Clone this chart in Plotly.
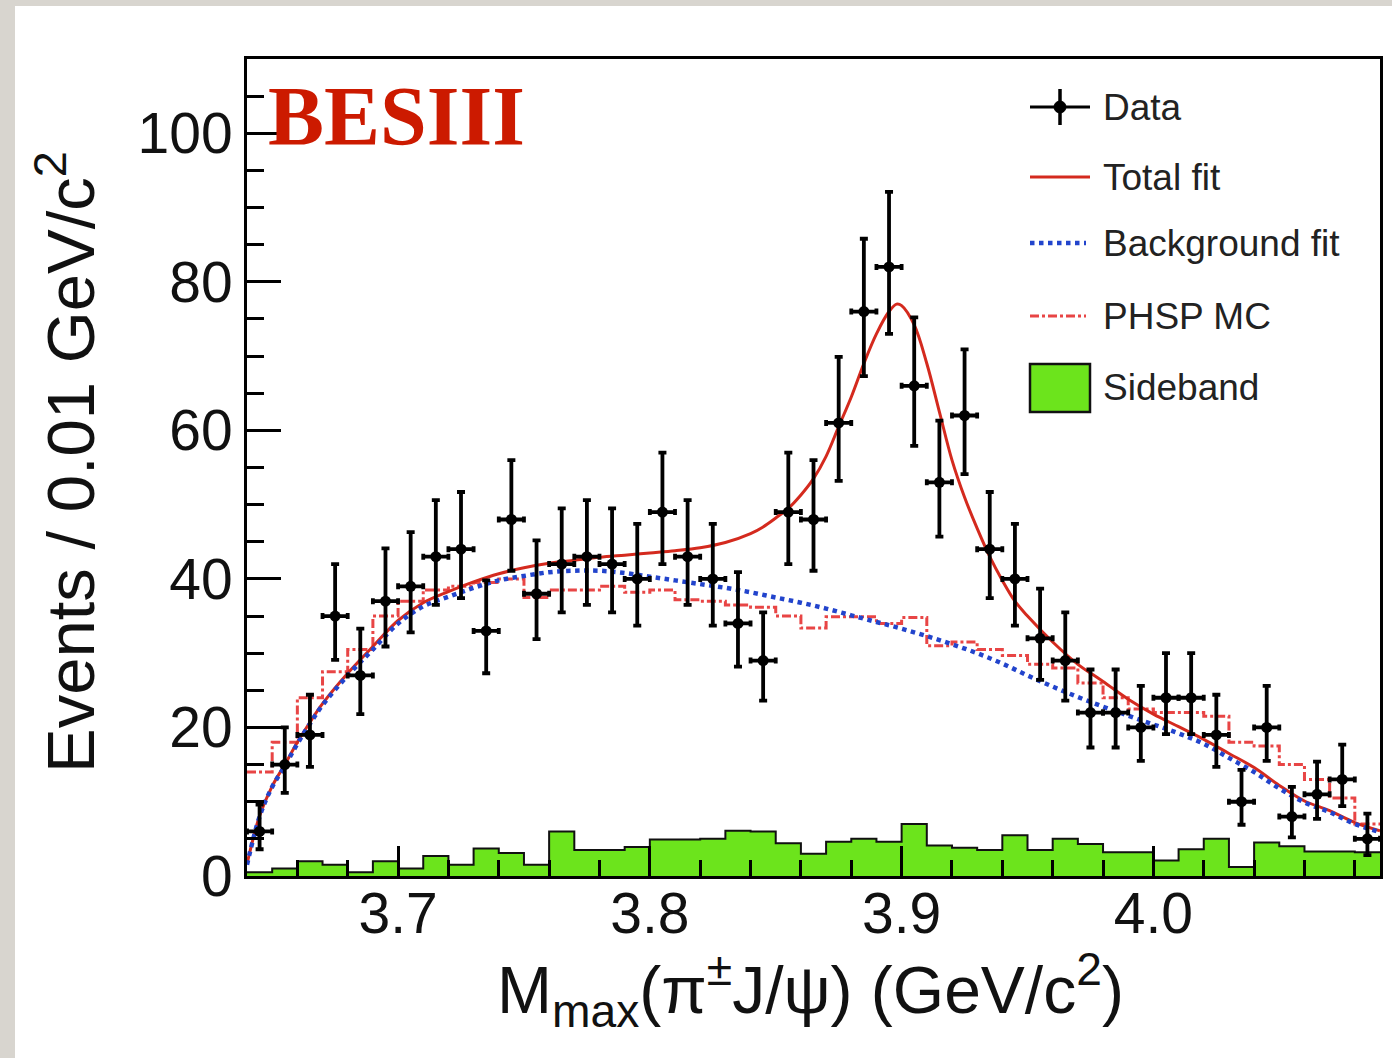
import plotly.graph_objects as go

# ---------------- data ----------------
bin_width = 0.01
bin_lo = [round(3.64 + 0.01 * i, 3) for i in range(45)]          # bin lower edges
bin_center = [round(b + 0.005, 4) for b in bin_lo]

data_counts = [6, 15, 19, 35, 27, 37, 39, 43, 44, 33, 48, 38, 42, 43, 42, 40, 49, 43, 40, 34,
               29, 49, 48, 61, 76, 82, 66, 53, 62, 44, 40, 32, 29, 22, 22, 20, 24, 24, 19, 10,
               20, 8, 11, 13, 5]
err_up = [3.6, 5.0, 5.4, 7.0, 6.3, 7.1, 7.3, 7.6, 7.7, 6.8, 8.0, 7.2, 7.5, 7.6, 7.5, 7.4, 8.0, 7.6, 7.4, 6.9,
          6.5, 8.0, 8.0, 8.9, 9.8, 10.1, 9.2, 8.3, 8.9, 7.7, 7.4, 6.7, 6.5, 5.8, 5.8, 5.6, 6.0, 6.0, 5.4, 4.3,
          5.6, 4.0, 4.4, 4.7, 3.4]
err_down = [2.4, 3.8, 4.3, 5.9, 5.2, 6.1, 6.2, 6.5, 6.6, 5.7, 6.9, 6.1, 6.5, 6.5, 6.5, 6.3, 7.0, 6.5, 6.3, 5.8,
            5.4, 7.0, 6.9, 7.8, 8.7, 9.0, 8.1, 7.3, 7.9, 6.6, 6.3, 5.6, 5.4, 4.7, 4.7, 4.5, 4.9, 4.9, 4.3, 3.1,
            4.5, 2.8, 3.3, 3.6, 2.2]

sideband = [0.5, 1.0, 2.0, 1.5, 0.5, 2.0, 1.0, 2.7, 1.5, 3.7, 3.1, 1.5, 6.0, 3.5, 3.5, 3.9, 4.9, 4.9, 5.0, 6.1,
            6.0, 4.4, 3.0, 4.6, 5.0, 4.6, 7.0, 4.1, 3.8, 3.5, 5.5, 3.5, 5.0, 4.3, 3.2, 3.2, 2.1, 3.6, 5.0, 1.2,
            4.5, 4.0, 3.3, 3.3, 3.2]

phsp_mc = [14.0, 18.0, 24.0, 27.5, 30.5, 35.0, 37.0, 38.5, 39.0, 39.5, 40.0, 37.5, 38.5, 38.5, 39.0, 38.2, 38.5,
           37.2, 37.0, 36.5, 36.2, 35.0, 33.4, 34.9, 34.9, 34.0, 34.8, 31.0, 31.5, 30.5, 29.7, 28.5, 28.0,
           26.0, 24.0, 22.5, 22.0, 22.0, 21.5, 18.0, 17.5, 15.0, 13.0, 10.5, 7.0]

bkg_x = [3.640, 3.645, 3.650, 3.655, 3.660, 3.665, 3.670, 3.680, 3.690, 3.700, 3.710, 3.720, 3.730,
         3.740, 3.750, 3.760, 3.770, 3.780, 3.790, 3.800, 3.810, 3.820, 3.830, 3.840, 3.850, 3.860,
         3.870, 3.880, 3.890, 3.900, 3.910, 3.920, 3.930, 3.940, 3.950, 3.960, 3.970, 3.980, 3.990,
         4.000, 4.010, 4.020, 4.030, 4.040, 4.050, 4.060, 4.070, 4.080, 4.090]
bkg_y = [1.5, 8.0, 12.0, 14.8, 17.8, 20.5, 23.0, 27.0, 30.5, 34.0, 36.3, 37.6, 38.8,
         39.8, 40.4, 40.9, 41.1, 41.1, 40.8, 40.3, 39.8, 39.3, 38.8, 38.2, 37.5, 36.8,
         36.0, 35.1, 34.2, 33.3, 32.3, 31.2, 30.0, 28.6, 27.0, 25.5, 24.1, 22.8, 21.6,
         20.4, 19.2, 17.8, 15.9, 14.0, 11.8, 9.9, 8.6, 7.0, 5.9]

tot_x = [3.640, 3.645, 3.650, 3.655, 3.660, 3.665, 3.670, 3.680, 3.690, 3.700, 3.710, 3.720, 3.730,
         3.740, 3.750, 3.760, 3.770, 3.780, 3.790, 3.800, 3.810, 3.820, 3.830, 3.840, 3.845, 3.850,
         3.855, 3.860, 3.865, 3.870, 3.875, 3.880, 3.885, 3.890, 3.895, 3.898, 3.900, 3.905, 3.910,
         3.915, 3.920, 3.925, 3.930, 3.935, 3.940, 3.945, 3.950, 3.960, 3.970, 3.980, 3.990, 4.000,
         4.010, 4.020, 4.030, 4.040, 4.050, 4.060, 4.070, 4.080, 4.090]
tot_y = [1.6, 8.1, 12.1, 15.0, 18.0, 20.7, 23.2, 27.3, 30.9, 34.4, 36.8, 38.3, 39.6,
         40.7, 41.5, 42.1, 42.5, 42.9, 43.2, 43.5, 43.8, 44.2, 44.9, 46.1, 47.0, 48.2,
         49.5, 51.3, 53.5, 56.5, 60.5, 64.5, 69.0, 73.0, 76.0, 77.0, 76.8, 74.2, 69.0,
         62.5, 56.0, 51.0, 46.8, 43.0, 39.8, 37.0, 35.0, 31.5, 28.5, 26.2, 23.8, 21.8,
         20.1, 18.4, 16.5, 14.6, 12.2, 10.1, 8.8, 7.2, 6.1]

x_ticks = [3.7, 3.8, 3.9, 4.0]
y_ticks = [0, 20, 40, 60, 80, 100]
legend_labels = ["Data", "Total fit", "Background fit", "PHSP MC", "Sideband"]

# histogram step outlines from bin edges
edges = bin_lo + [round(bin_lo[-1] + bin_width, 3)]
side_step = sideband + [sideband[-1]]
phsp_step = phsp_mc + [phsp_mc[-1]]

FONT = "Liberation Sans, Arial, Helvetica, sans-serif"
GREEN = "#6CE41C"
RED_TOT = "#D42A1E"
RED_PHSP = "#E84545"
BLUE = "#2244CC"

fig = go.Figure()

fig.add_trace(go.Scatter(
    x=edges, y=side_step, mode="lines", line=dict(shape="hv", color="#111111", width=2),
    fill="tozeroy", fillcolor=GREEN, name="Sideband", showlegend=False))

fig.add_trace(go.Scatter(
    x=edges, y=phsp_step, mode="lines",
    line=dict(shape="hv", color=RED_PHSP, width=3, dash="dashdot"),
    name="PHSP MC", showlegend=False))

fig.add_trace(go.Scatter(
    x=tot_x, y=tot_y, mode="lines", line=dict(color=RED_TOT, width=3, shape="spline"),
    name="Total fit", showlegend=False))

fig.add_trace(go.Scatter(
    x=bkg_x, y=bkg_y, mode="lines", line=dict(color=BLUE, width=4.5, dash="dot", shape="spline"),
    name="Background fit", showlegend=False))

fig.add_trace(go.Scatter(
    x=bin_center, y=data_counts, mode="markers",
    marker=dict(color="black", size=11, symbol="circle"),
    error_y=dict(type="data", symmetric=False, array=err_up, arrayminus=err_down,
                 color="black", thickness=3.8, width=4),
    error_x=dict(type="constant", value=bin_width / 2, color="black", thickness=3.8, width=3),
    name="Data", showlegend=False))

fig.update_xaxes(
    range=[3.64, 4.09], tickmode="array", tickvals=x_ticks, ticktext=[f"{v:.1f}" for v in x_ticks],
    ticks="inside", ticklen=30, tickwidth=3, tickcolor="black",
    minor=dict(ticks="inside", dtick=0.02, tick0=3.64, ticklen=16, tickwidth=3, tickcolor="black"),
    showline=True, linecolor="black", linewidth=3, mirror=True,
    showgrid=False, zeroline=False, layer="above traces", ticklabelstandoff=-14,
    tickfont=dict(family=FONT, size=57, color="#111111"))

fig.update_yaxes(
    range=[0, 110], tickmode="array", tickvals=y_ticks,
    ticks="inside", ticklen=34, tickwidth=3, tickcolor="black",
    minor=dict(ticks="inside", dtick=5, tick0=0, ticklen=17, tickwidth=3, tickcolor="black"),
    showline=True, linecolor="black", linewidth=3, mirror=True,
    showgrid=False, zeroline=False, layer="above traces",
    tickfont=dict(family=FONT, size=57, color="#111111"))

W, H = 1392, 1058
L, R, T, B = 247, 12, 59, 182
pw, ph = W - L - R, H - T - B

def px(xp):
    return (xp - L) / pw

def py(yp):
    return (H - B - yp) / ph

FRAME = "#D8D5CF"
shapes = [
    dict(type="rect", xref="paper", yref="paper", x0=px(0), x1=px(15), y0=py(H), y1=py(0),
         fillcolor=FRAME, line=dict(width=0), layer="below"),
    dict(type="rect", xref="paper", yref="paper", x0=px(0), x1=px(W), y0=py(6), y1=py(0),
         fillcolor=FRAME, line=dict(width=0), layer="below"),
]

# ---- legend (drawn in paper space) ----
leg_rows = [107, 177, 243, 316, 388]
sx0, sx1, tx = 1030, 1090, 1101
shapes += [
    dict(type="line", xref="paper", yref="paper", x0=px(sx0), x1=px(sx1), y0=py(leg_rows[0]), y1=py(leg_rows[0]),
         line=dict(color="black", width=3)),
    dict(type="line", xref="paper", yref="paper", x0=px(1060), x1=px(1060), y0=py(leg_rows[0] - 18),
         y1=py(leg_rows[0] + 18), line=dict(color="black", width=3.5)),
    dict(type="circle", xref="paper", yref="paper", x0=px(1054), x1=px(1066), y0=py(leg_rows[0] - 6),
         y1=py(leg_rows[0] + 6), fillcolor="black", line=dict(color="black", width=1)),
    dict(type="line", xref="paper", yref="paper", x0=px(sx0), x1=px(sx1), y0=py(leg_rows[1]), y1=py(leg_rows[1]),
         line=dict(color=RED_TOT, width=3)),
    dict(type="line", xref="paper", yref="paper", x0=px(sx0), x1=px(sx1 - 4), y0=py(leg_rows[2]), y1=py(leg_rows[2]),
         line=dict(color=BLUE, width=4.5, dash="dot")),
    dict(type="line", xref="paper", yref="paper", x0=px(sx0), x1=px(sx1 - 4), y0=py(leg_rows[3]), y1=py(leg_rows[3]),
         line=dict(color=RED_PHSP, width=3, dash="dashdot")),
    dict(type="rect", xref="paper", yref="paper", x0=px(sx0), x1=px(sx1), y0=py(leg_rows[4] + 24),
         y1=py(leg_rows[4] - 24), fillcolor=GREEN, line=dict(color="#111111", width=2.5)),
]

annotations = [
    dict(text="BESIII", xref="paper", yref="paper", x=px(266), y=py(116), xanchor="left", yanchor="middle",
         showarrow=False, font=dict(family="Liberation Serif, Times New Roman, serif", size=84, color="#CC1A00",
                                    weight="bold")),
    dict(text="Events / 0.01 GeV/c<sup>2</sup>", xref="paper", yref="paper", x=px(66), y=py(462),
         xanchor="center", yanchor="middle", textangle=-90, showarrow=False,
         font=dict(family=FONT, size=67, color="#111111")),
    dict(text="M<sub>max</sub>(π<sup>±</sup>J/ψ) (GeV/c<sup>2</sup>)", xref="paper", yref="paper",
         x=px(810), y=py(990), xanchor="center", yanchor="middle", showarrow=False,
         font=dict(family=FONT, size=66, color="#111111")),
]
for lab, yrow in zip(legend_labels, leg_rows):
    annotations.append(dict(text=lab, xref="paper", yref="paper", x=px(tx), y=py(yrow),
                            xanchor="left", yanchor="middle", showarrow=False,
                            font=dict(family=FONT, size=37, color="#222222")))

fig.update_layout(
    width=W, height=H, margin=dict(l=L, r=R, t=T, b=B, autoexpand=False),
    paper_bgcolor="white", plot_bgcolor="white",
    shapes=shapes, annotations=annotations,
    showlegend=False,
)

fig.write_html("out.html", config={"displayModeBar": False},
               post_script="document.body.style.margin='0px';")
